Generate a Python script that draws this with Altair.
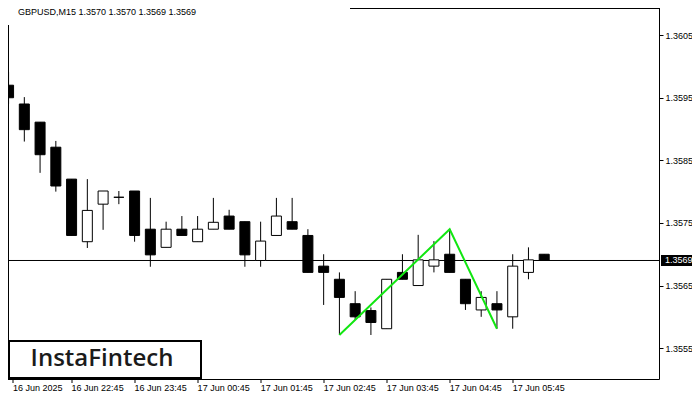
import altair as alt
import pandas as pd

# ---------------- data ----------------
candle_idx = list(range(35))  # 15-minute bars, 16 Jun 21:45 .. 17 Jun 06:15
opens = [1.35970, 1.35940, 1.35911, 1.35871, 1.35820, 1.35720, 1.35780, 1.35791, 1.35801, 1.35740,
         1.35711, 1.35740, 1.35720, 1.35740, 1.35761, 1.35752, 1.35690, 1.35730, 1.35752, 1.35730,
         1.35681, 1.35660, 1.35621, 1.35610, 1.35581, 1.35671, 1.35650, 1.35681, 1.35700, 1.35660,
         1.35611, 1.35621, 1.35600, 1.35671, 1.35700]
closes = [1.35950, 1.35899, 1.35859, 1.35809, 1.35730, 1.35770, 1.35801, 1.35791, 1.35730, 1.35699,
          1.35740, 1.35730, 1.35740, 1.35751, 1.35740, 1.35699, 1.35721, 1.35761, 1.35740, 1.35671,
          1.35671, 1.35631, 1.35600, 1.35591, 1.35660, 1.35660, 1.35691, 1.35691, 1.35671, 1.35621,
          1.35631, 1.35611, 1.35681, 1.35691, 1.35690]
highs = [1.35991, 1.35951, 1.35911, 1.35881, 1.35820, 1.35820, 1.35801, 1.35801, 1.35801, 1.35790,
         1.35752, 1.35761, 1.35761, 1.35790, 1.35771, 1.35752, 1.35752, 1.35790, 1.35790, 1.35740,
         1.35700, 1.35671, 1.35641, 1.35615, 1.35660, 1.35700, 1.35731, 1.35721, 1.35740, 1.35660,
         1.35641, 1.35641, 1.35700, 1.35711, 1.35700]
lows = [1.35940, 1.35880, 1.35830, 1.35800, 1.35730, 1.35710, 1.35739, 1.35780, 1.35720, 1.35680,
        1.35711, 1.35730, 1.35720, 1.35740, 1.35740, 1.35680, 1.35680, 1.35730, 1.35740, 1.35671,
        1.35619, 1.35571, 1.35595, 1.35571, 1.35581, 1.35660, 1.35650, 1.35671, 1.35671, 1.35611,
        1.35600, 1.35581, 1.35581, 1.35660, 1.35690]

pattern_idx = [21, 28, 31]
pattern_price = [1.35571, 1.35740, 1.35581]

current_price = [1.3569]

y_tick_values = [1.3555, 1.3565, 1.3575, 1.3585, 1.3595, 1.3605]
x_tick_idx = [0, 4, 8, 12, 16, 20, 24, 28, 32]
x_tick_labels = ["16 Jun 2025", "16 Jun 22:45", "16 Jun 23:45", "17 Jun 00:45", "17 Jun 01:45",
                 "17 Jun 02:45", "17 Jun 03:45", "17 Jun 04:45", "17 Jun 05:45"]

title_text = ["GBPUSD,M15  1.3570 1.3570 1.3569 1.3569"]
logo_text = ["InstaFintech"]

# ---------------- layout / style ----------------
W, H = 651, 371
FONT = "Liberation Sans"
FS = 9
x_domain = [0.28125, 40.96875]
y_domain = [1.355007, 1.3609335]

candles = pd.DataFrame({"idx": candle_idx, "open": opens, "close": closes, "high": highs, "low": lows})
candles["dir"] = ["up" if c >= o else "down" for o, c in zip(opens, closes)]

pattern = pd.DataFrame({"idx": pattern_idx, "price": pattern_price, "order": list(range(len(pattern_idx)))})
price_df = pd.DataFrame({"price": current_price})

xscale = alt.Scale(domain=x_domain, nice=False, zero=False)
yscale = alt.Scale(domain=y_domain, nice=False, zero=False)

# first tick is pinned to the plot's left edge (the first bar is half outside the frame)
x_vals = [x_domain[0]] + x_tick_idx[1:]
label_expr = "[" + ",".join("'" + s + "'" for s in x_tick_labels) + "][round(datum.value/4)]"

xaxis = alt.Axis(values=x_vals, labelExpr=label_expr, labelAlign="left", labelFont=FONT,
                 labelFontSize=FS, labelColor="black", tickColor="black", tickSize=4,
                 domain=False, grid=False, labelPadding=1, title=None, translate=0,
                 labelOverlap=False, labelFlush=False, orient="bottom")
yaxis = alt.Axis(values=y_tick_values, format=".4f", labelFont=FONT, labelFontSize=FS,
                 labelColor="black", tickColor="black", tickSize=4, domain=False, grid=False,
                 labelPadding=2, title=None, orient="right", labelOverlap=False)

X = alt.X("idx:Q", scale=xscale, axis=xaxis)

price_line = alt.Chart(price_df).mark_rule(color="black", strokeWidth=1).encode(
    y=alt.Y("price:Q", scale=yscale, axis=yaxis),
    x=alt.value(0), x2=alt.value(W),
)

wicks = alt.Chart(candles).mark_rule(color="black", strokeWidth=1, clip=True).encode(
    x=X,
    y=alt.Y("low:Q", scale=yscale, axis=yaxis),
    y2="high:Q",
)

bodies = alt.Chart(candles).mark_bar(size=10, stroke="black", strokeWidth=1, clip=True).encode(
    x=X,
    y=alt.Y("open:Q", scale=yscale, axis=yaxis),
    y2="close:Q",
    fill=alt.Color("dir:N", scale=alt.Scale(domain=["up", "down"], range=["white", "black"]), legend=None),
)

pattern_line = alt.Chart(pattern).mark_line(color="#11e611", strokeWidth=2).encode(
    x=X,
    y=alt.Y("price:Q", scale=yscale, axis=yaxis),
    order="order:Q",
)

one = pd.DataFrame({"k": [0]})
frame_left = alt.Chart(one).mark_rule(color="black", strokeWidth=1).encode(
    x=alt.value(0.5), y=alt.value(17), y2=alt.value(H + 0.5))
frame_top = alt.Chart(one).mark_rule(color="black", strokeWidth=1).encode(
    x=alt.value(342), x2=alt.value(W + 0.5), y=alt.value(0.5))
frame_right = alt.Chart(one).mark_rule(color="black", strokeWidth=1).encode(
    x=alt.value(W + 0.5), y=alt.value(0), y2=alt.value(H + 0.5))
frame_bottom = alt.Chart(one).mark_rule(color="black", strokeWidth=1).encode(
    x=alt.value(0), x2=alt.value(W + 0.5), y=alt.value(H + 0.5))

logo_box = alt.Chart(one).mark_rect(fill="white", stroke="black", strokeWidth=2).encode(
    x=alt.value(1), x2=alt.value(193), y=alt.value(333), y2=alt.value(370))
logo = alt.Chart(pd.DataFrame({"t": logo_text})).mark_text(
    font="Open Sans", fontSize=24, fontWeight=600, color="#1b1b1b", align="center", baseline="middle"
).encode(x=alt.value(94), y=alt.value(351), text="t:N")

title = alt.Chart(pd.DataFrame({"t": title_text})).mark_text(
    font=FONT, fontSize=FS, color="black", align="left", baseline="middle"
).encode(x=alt.value(10), y=alt.value(4), text="t:N")

price_box = alt.Chart(price_df).transform_calculate(
    hi="datum.price + 0.000088", lo="datum.price - 0.000088"
).mark_rect(color="black").encode(
    x=alt.value(653), x2=alt.value(684),
    y=alt.Y("hi:Q", scale=yscale, axis=yaxis), y2="lo:Q",
)
price_text = alt.Chart(price_df).mark_text(
    font=FONT, fontSize=FS, color="white", align="left", baseline="middle"
).encode(
    x=alt.value(657),
    y=alt.Y("price:Q", scale=yscale, axis=yaxis),
    text=alt.Text("price:Q", format=".4f"),
)

chart = alt.layer(
    price_line, wicks, bodies, pattern_line,
    frame_left, frame_top, frame_right, frame_bottom,
    logo_box, logo, title, price_box, price_text,
).properties(
    width=W, height=H,
    autosize=alt.AutoSizeParams(type="none"),
    padding={"left": 0, "top": 0, "right": 33, "bottom": 13},
    background="white",
).configure_view(stroke=None)

chart.save("out.html", embed_options={"renderer": "svg", "actions": False})
